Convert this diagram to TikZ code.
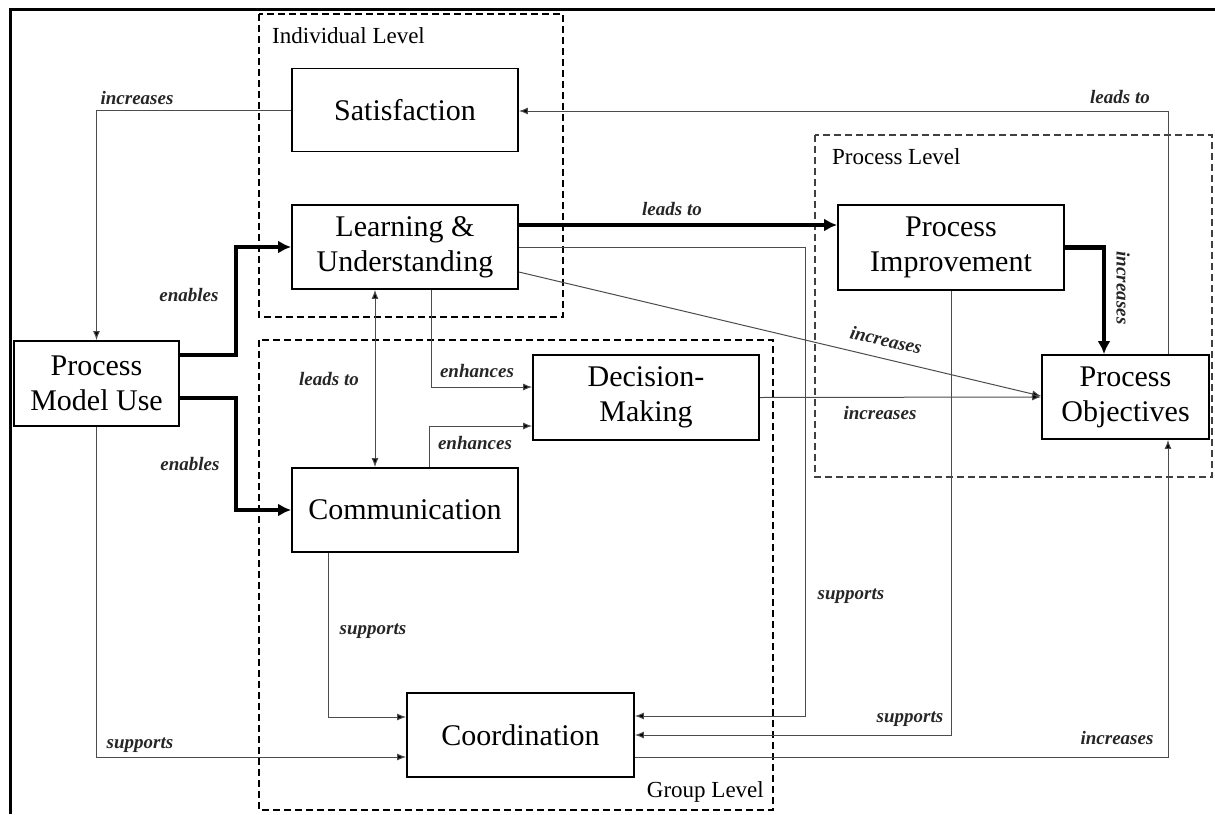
\documentclass[tikz,border=0pt]{standalone}
\usepackage{fontspec}
\setmainfont{Liberation Serif}
\usetikzlibrary{arrows.meta}
\begin{document}
\begin{tikzpicture}[x=1pt,y=-1pt,
  box/.style={draw,line width=1.8pt,fill=white,align=center,inner sep=0pt,
    font=\fontsize{30}{35}\selectfont},
  lvl/.style={draw,line width=1.3pt,dash pattern=on 7pt off 4pt},
  lvltext/.style={font=\fontsize{23}{26}\selectfont,inner sep=0pt},
  lab/.style={font=\fontsize{19}{21}\selectfont\bfseries\itshape,text=black!85,inner sep=0pt},
  thinarr/.style={draw=black!70,line width=1pt,-{Latex[length=9pt,width=7pt,fill=black]}},
  thickarr/.style={draw=black,line width=4.5pt,-{Latex[length=13pt,width=13pt]}}]
\useasboundingbox (0,0) rectangle (1215,814);
% outer frame
\draw[line width=3pt] (10,814) -- (10,9) -- (1215,9);
% level boxes
\draw[lvl] (259,14) rectangle (563,317);
\node[lvltext,anchor=west] (indivlbl) at (272,36) {Individual Level};
\draw[lvl] (259,340) rectangle (773,810);
\node[lvltext,anchor=east] (grouplbl) at (764,792) {Group Level};
\draw[lvl,draw=black!75] (815,135) rectangle (1212,477);
\node[lvltext,anchor=west] (proclbl) at (832,157) {Process Level};
% boxes
\node[box,minimum width=226pt,minimum height=83pt] (sat) at (405,110) {Satisfaction};
\node[box,minimum width=226pt,minimum height=84pt] (learn) at (405,247) {Learning \&\\Understanding};
\node[box,minimum width=165pt,minimum height=85pt] (pmu) at (96.5,383.5) {Process\\Model Use};
\node[box,minimum width=226pt,minimum height=85pt] (dm) at (646,397.5) {Decision-\\Making};
\node[box,minimum width=226pt,minimum height=84pt] (comm) at (405,510) {Communication};
\node[box,minimum width=227pt,minimum height=84pt] (coord) at (520.5,735) {Coordination};
\node[box,minimum width=226pt,minimum height=85pt] (pi) at (951,247.5) {Process\\Improvement};
\node[box,minimum width=167pt,minimum height=84pt] (po) at (1125.5,397) {Process\\Objectives};
% connectors
\draw[thinarr] (sat.west) -| (pmu.north);
\draw[thickarr] ([yshift=28.5pt]pmu.east) -- ++(56,0) |- (learn.west);
\draw[thickarr] ([yshift=-14.5pt]pmu.east) -- ++(56,0) |- (comm.west);
\draw[thinarr,{Latex[length=9pt,width=7pt,fill=black]}-{Latex[length=9pt,width=7pt,fill=black]}] ([xshift=-30pt]learn.south) -- ([xshift=-30pt]comm.north);
\draw[thinarr] ([xshift=26pt]learn.south) |- ([yshift=10.5pt]dm.west);
\draw[thinarr] ([xshift=24pt]comm.north) |- ([yshift=-28.5pt]dm.west);
\draw[thickarr] ([yshift=22pt]learn.east) -- ([yshift=22.5pt]pi.west);
\draw[thinarr] (learn.east) -- ++(287,0) |- ([yshift=19pt]coord.east);
\draw[thinarr] ([yshift=-25pt]learn.east) -- ([yshift=1pt]po.west);
\draw[thinarr] (dm.east) -- (po.west);
\draw[thinarr] (pi.south) |- (coord.east);
\draw[thickarr] (pi.east) -| ([xshift=-21.5pt]po.north);
\draw[thinarr] ([xshift=42.5pt]po.north) |- ([yshift=-1pt]sat.east);
\draw[thinarr] ([yshift=-22pt]coord.east) -| ([xshift=42.5pt]po.south);
\draw[thinarr] ([xshift=-77pt]comm.south) |- ([yshift=18pt]coord.west);
\draw[thinarr] (pmu.south) |- ([yshift=-22pt]coord.west);
% labels
\node[lab] (l1) at (137,98) {increases};
\node[lab] (l2) at (189,295) {enables};
\node[lab] (l3) at (190,464) {enables};
\node[lab] (l4) at (329,379) {leads to};
\node[lab] (l5) at (477,371) {enhances};
\node[lab] (l6) at (475,443) {enhances};
\node[lab] (l7) at (672,209) {leads to};
\node[lab] (l8) at (851,596) {supports};
\node[lab,rotate=-13] (l9) at (886,340) {increases};
\node[lab] (l10) at (880,413) {increases};
\node[lab] (l11) at (910,719) {supports};
\node[lab,rotate=-90] (l12) at (1123,288) {increases};
\node[lab] (l13) at (1120,97) {leads to};
\node[lab] (l14) at (1117,738) {increases};
\node[lab] (l15) at (373,631) {supports};
\node[lab] (l16) at (140,745) {supports};
\end{tikzpicture}
\end{document}
